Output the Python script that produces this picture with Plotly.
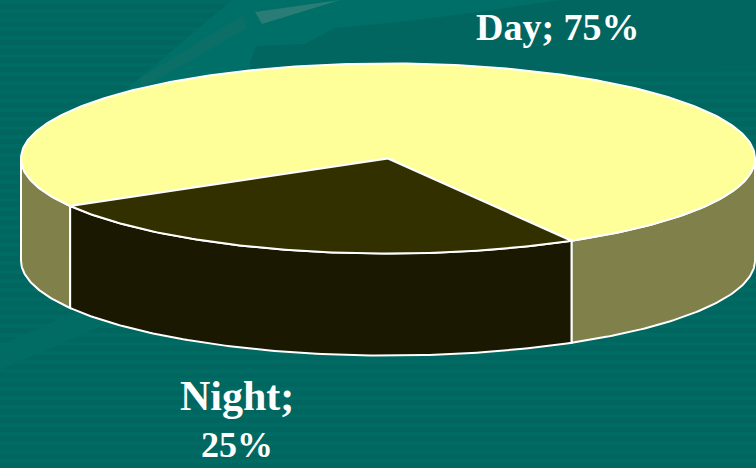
import numpy as np
import plotly.graph_objects as go

categories = ["Day", "Night"]
values = [75, 25]
top_colors = ["#FFFF99", "#333000"]
side_colors = ["#80804A", "#1A1800"]
night_start_deg = 60.0  # first slice rotation of the Night slice (screen-clockwise)

W, H = 756, 468
CX, CY, RX, RY, DEPTH = 388, 158.5, 367, 95, 102
EDGE = dict(color="white", width=2)


def arc(a0, a1, dy=0.0):
    t = np.radians(np.linspace(a0, a1, max(3, int(abs(a1 - a0) * 1.2))))
    return CX + RX * np.cos(t), CY + RY * np.sin(t) + dy


def wall(a0, a1, color):
    x0, y0 = arc(a0, a1)
    x1, y1 = arc(a1, a0, DEPTH)
    return go.Scatter(x=np.r_[x0, x1, x0[0]], y=np.r_[y0, y1, y0[0]], mode="lines", fill="toself",
                      fillcolor=color, line=EDGE, hoverinfo="skip", showlegend=False)


def top(a0, a1, color):
    x, y = arc(a0, a1)
    return go.Scatter(x=np.r_[CX, x, CX], y=np.r_[CY, y, CY], mode="lines", fill="toself",
                      fillcolor=color, line=EDGE, hoverinfo="skip", showlegend=False)


total = sum(values)
night_sweep = 360 * values[1] / total
night_a = (night_start_deg, night_start_deg + night_sweep)
day_a = (night_a[1], night_start_deg + 360)

fig = go.Figure()
fig.add_trace(wall(night_a[1], 180, side_colors[0]))
fig.add_trace(wall(0, night_a[0], side_colors[0]))
fig.add_trace(wall(night_a[0], night_a[1], side_colors[1]))
fig.add_trace(top(day_a[0], day_a[1], top_colors[0]))
fig.add_trace(top(night_a[0], night_a[1], top_colors[1]))

# Background: subtle horizontal stripes plus faint decorative shapes
shapes = []
for y0 in range(0, H, 9):
    shapes.append(dict(type="rect", xref="paper", yref="paper", x0=0, x1=1, y0=1 - y0 / H, y1=1 - (y0 + 4) / H,
                       fillcolor="#006B63", line_width=0, layer="below"))


def poly(pts, color):
    d = "M" + " L".join(f"{x},{y}" for x, y in pts) + " Z"
    shapes.append(dict(type="path", path=d, xref="x", yref="y", fillcolor=color, line_width=0, layer="below"))


poly([(232, 0), (756, 0), (756, 20), (560, 35), (480, 45), (400, 60), (250, 70), (125, 90)], "#006F67")
poly([(250, 62), (256, 46), (305, 44), (335, 28), (400, 22), (480, 12), (560, 0), (720, 0), (756, 0), (756, 66), (250, 70)], "#00665F")
poly([(140, 78), (243, 15), (247, 28), (142, 88)], "#0B6F67")
poly([(255, 12), (340, 0), (262, 24)], "#2A7D76")
poly([(0, 345), (75, 312), (120, 318), (0, 370)], "#006C64")

fig.update_layout(
    width=W, height=H, margin=dict(l=0, r=0, t=0, b=0),
    paper_bgcolor="#00665F", plot_bgcolor="rgba(0,0,0,0)",
    xaxis=dict(range=[0, W], visible=False, fixedrange=True),
    yaxis=dict(range=[H, 0], visible=False, fixedrange=True),
    shapes=shapes, showlegend=False,
)

labels = [
    (f"<b>{categories[0]}; {values[0]}%</b>", 558, 27, 38),
    (f"<b>{categories[1]};</b>", 237, 396, 42),
    (f"<b>{values[1]}%</b>", 237, 445, 36),
]
for text, x, y, size in labels:
    fig.add_annotation(x=x, y=y, text=text, showarrow=False, xref="x", yref="y",
                       font=dict(family="Liberation Serif", size=size, color="white"))

fig.write_html("out.html", config=dict(displayModeBar=False),
               post_script="document.body.style.margin='0';document.body.style.overflow='hidden';")
